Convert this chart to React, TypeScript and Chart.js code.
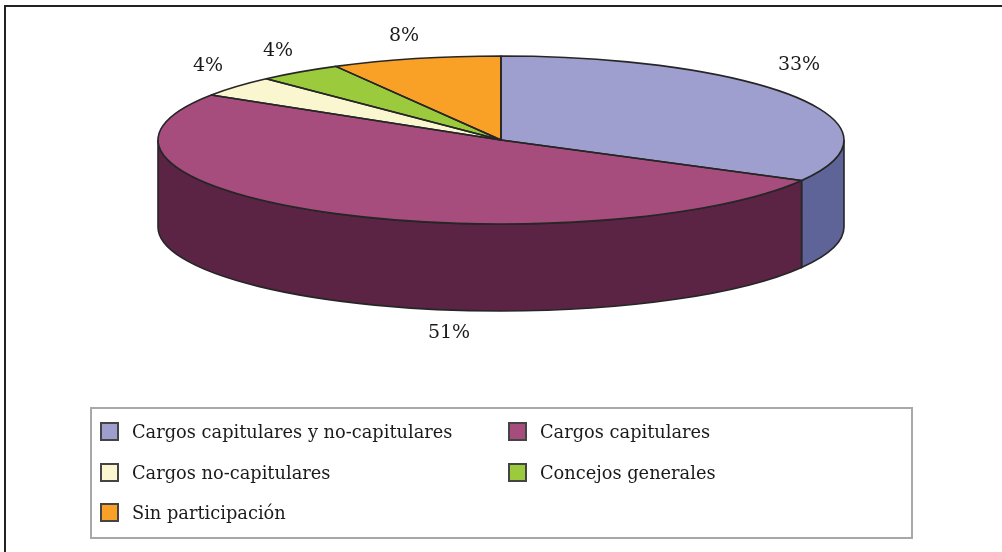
import React, { useEffect, useRef } from "react";
import { Chart, registerables } from "chart.js";

Chart.register(...registerables);

const categories = [
  "Cargos capitulares y no-capitulares",
  "Cargos capitulares",
  "Cargos no-capitulares",
  "Concejos generales",
  "Sin participación",
];
const shares = [33, 51, 4, 4, 8];
const topColors = ["#9E9FCF", "#A64D7E", "#F9F6D0", "#9BCB3C", "#F9A127"];
const sideColors = ["#5F6498", "#5C2444", "#95937C", "#5D7A24", "#955F17"];

const FONT = "'DejaVu Serif', serif";
const TEXT = "#1a1a1a";
const LINE = "#262626";
const PIE = { cx: 501, cy: 140, rx: 343, ry: 84, depth: 87 };
const SHARE_LABEL_POS = [
  [799, 65],
  [449, 333],
  [208, 66],
  [278, 51],
  [404, 36],
];
const LEGEND_BOX = { x: 91, y: 408, w: 821, h: 130 };
const LEGEND_POS = [
  [100, 422],
  [508, 422],
  [100, 463],
  [508, 463],
  [100, 503],
];

const arcProps = (a: any) => a.getProps(["x", "y", "startAngle", "endAngle", "outerRadius"], true);

const applySquash = (ctx: CanvasRenderingContext2D, p: any) => {
  ctx.translate(PIE.cx, PIE.cy);
  ctx.scale(PIE.rx / p.outerRadius, PIE.ry / p.outerRadius);
  ctx.translate(-p.x, -p.y);
};

const pie3d = {
  id: "pie3d",
  beforeDatasetsDraw(chart: any) {
    const ctx: CanvasRenderingContext2D = chart.ctx;
    const arcs = chart.getDatasetMeta(0).data;
    arcs.forEach((arc: any, i: number) => {
      const p = arcProps(arc);
      const a0 = Math.max(p.startAngle, 0);
      const a1 = Math.min(p.endAngle, Math.PI);
      if (a1 <= a0) return;
      const ex = (a: number) => PIE.cx + PIE.rx * Math.cos(a);
      const ey = (a: number) => PIE.cy + PIE.ry * Math.sin(a);
      ctx.save();
      ctx.beginPath();
      ctx.ellipse(PIE.cx, PIE.cy, PIE.rx, PIE.ry, 0, a0, a1);
      ctx.lineTo(ex(a1), ey(a1) + PIE.depth);
      ctx.ellipse(PIE.cx, PIE.cy + PIE.depth, PIE.rx, PIE.ry, 0, a1, a0, true);
      ctx.closePath();
      ctx.fillStyle = sideColors[i];
      ctx.fill();
      ctx.strokeStyle = LINE;
      ctx.lineWidth = 1.6;
      ctx.stroke();
      ctx.restore();
    });
  },
  beforeDatasetDraw(chart: any) {
    const ctx: CanvasRenderingContext2D = chart.ctx;
    const p = arcProps(chart.getDatasetMeta(0).data[0]);
    ctx.save();
    applySquash(ctx, p);
  },
  afterDatasetDraw(chart: any) {
    const ctx: CanvasRenderingContext2D = chart.ctx;
    ctx.restore();
    chart.getDatasetMeta(0).data.forEach((arc: any) => {
      const p = arcProps(arc);
      ctx.save();
      ctx.beginPath();
      ctx.moveTo(PIE.cx, PIE.cy);
      ctx.ellipse(PIE.cx, PIE.cy, PIE.rx, PIE.ry, 0, p.startAngle, p.endAngle);
      ctx.closePath();
      ctx.strokeStyle = LINE;
      ctx.lineWidth = 1.6;
      ctx.lineJoin = "round";
      ctx.stroke();
      ctx.restore();
    });
  },
  afterDraw(chart: any) {
    const ctx: CanvasRenderingContext2D = chart.ctx;
    ctx.save();
    ctx.fillStyle = TEXT;
    ctx.font = `19px ${FONT}`;
    ctx.textAlign = "center";
    ctx.textBaseline = "middle";
    shares.forEach((v, i) => {
      ctx.fillText(`${v}%`, SHARE_LABEL_POS[i][0], SHARE_LABEL_POS[i][1]);
    });
    ctx.strokeStyle = "#A8A8A8";
    ctx.lineWidth = 2;
    ctx.strokeRect(LEGEND_BOX.x, LEGEND_BOX.y, LEGEND_BOX.w, LEGEND_BOX.h);
    ctx.textAlign = "left";
    ctx.textBaseline = "alphabetic";
    ctx.font = `17.8px ${FONT}`;
    categories.forEach((c, i) => {
      const [x, y] = LEGEND_POS[i];
      ctx.fillStyle = topColors[i];
      ctx.fillRect(x + 1, y + 1, 17, 17);
      ctx.strokeStyle = "#444444";
      ctx.lineWidth = 2;
      ctx.strokeRect(x + 1, y + 1, 17, 17);
      ctx.fillStyle = TEXT;
      ctx.fillText(c, x + 32, y + 16);
    });
    ctx.restore();
  },
};

export default function App() {
  const ref = useRef<HTMLCanvasElement>(null);
  useEffect(() => {
    const chart = new Chart(ref.current!, {
      type: "pie",
      data: {
        labels: categories,
        datasets: [{ data: shares, backgroundColor: topColors, borderWidth: 0 }],
      },
      options: {
        animation: false,
        responsive: false,
        layout: { padding: 0 },
        plugins: { legend: { display: false }, tooltip: { enabled: false } },
      },
      plugins: [pie3d],
    });
    return () => chart.destroy();
  }, []);
  return (
    <div style={{ position: "absolute", left: 0, top: 0, width: 1002, height: 552, background: "#fff", overflow: "hidden" }}>
      <canvas ref={ref} width={1002} height={552} style={{ display: "block" }} />
      <div style={{ position: "absolute", left: 4, top: 5, width: 1200, height: 800, border: "2px solid #222" }} />
    </div>
  );
}
